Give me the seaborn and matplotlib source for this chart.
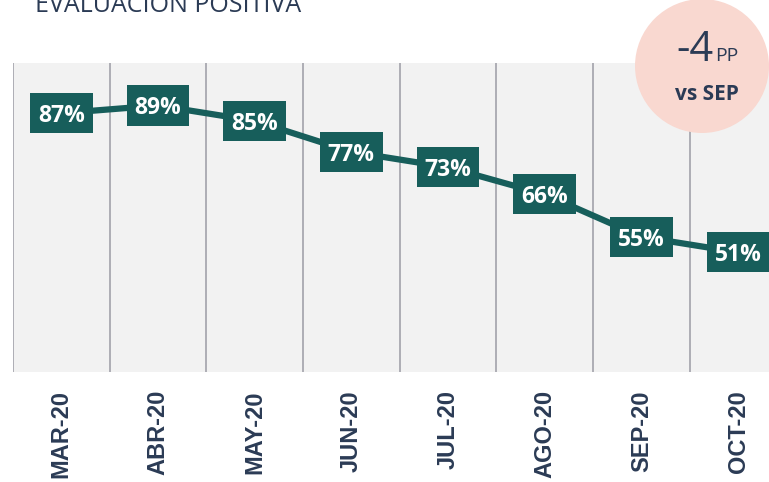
import matplotlib
matplotlib.use("Agg")
import matplotlib.pyplot as plt
import seaborn as sns
import pandas as pd
from matplotlib.patches import Rectangle, Ellipse

months = ["MAR-20", "ABR-20", "MAY-20", "JUN-20", "JUL-20", "AGO-20", "SEP-20", "OCT-20"]
positive = [87, 89, 85, 77, 73, 66, 55, 51]
title = "EVALUACIÓN POSITIVA"
badge_big = "-4"
badge_small = "PP"
badge_sub = "vs SEP"

TEAL = "#175e5b"
NAVY = "#2b3b55"

sns.set_theme(style="white")
plt.rcParams['font.family'] = ['Open Sans', 'DejaVu Sans']

df = pd.DataFrame({"x": range(len(months)), "month": months, "value": positive})

fig = plt.figure(figsize=(7.69, 4.82), dpi=100)
ax = fig.add_axes([13/769, 1-372/482, 1-13/769, (372-63)/482])
ax.set_facecolor("#f2f2f2")

sns.lineplot(data=df, x="x", y="value", ax=ax, color=TEAL, linewidth=4.5, zorder=3)

for i in range(len(months)):
    ax.axvline(i - 0.5, color="#a8a8b0", linewidth=1.3, zorder=1)

bw, bh = 0.65, 10.4
for i, v in zip(df["x"], df["value"]):
    ax.add_patch(Rectangle((i - bw/2, v - bh/2), bw, bh, facecolor=TEAL,
                           edgecolor="none", zorder=4))
    ax.text(i, v, f"{v}%", color="white", fontsize=16.5, fontweight="bold",
            ha="center", va="center_baseline", zorder=5)

ax.set_xlim(-0.5, 7.32)
ax.set_ylim(20, 100)
ax.set_xticks(range(len(months)))
ax.set_xticklabels(months, rotation=90, fontsize=17, fontweight="bold",
                   color=NAVY, family=['Liberation Sans', 'DejaVu Sans'])
ax.tick_params(axis="x", length=0, pad=13)
ax.set_yticks([])
ax.set_xlabel("")
ax.set_ylabel("")
for s in ax.spines.values():
    s.set_visible(False)

fig.text(35/769, 1-12/482, title, fontsize=18, color=NAVY, ha="left",
         va="baseline")

fig.patches.append(Ellipse((702/769, 1-66/482), 134/769, 134/482,
                           transform=fig.transFigure, facecolor="#f9d8d0",
                           edgecolor="none", zorder=10))
fig.text(714/769, 1-61/482, badge_big, fontsize=30, color=NAVY, ha="right",
         va="baseline", zorder=11)
fig.text(715/769, 1-61/482, badge_small, fontsize=14, color=NAVY, ha="left",
         va="baseline", zorder=11)
fig.text(707/769, 1-100/482, badge_sub, fontsize=15, fontweight="bold",
         color=NAVY, ha="center", va="baseline", zorder=11)

fig.savefig("out.png", dpi=100)
